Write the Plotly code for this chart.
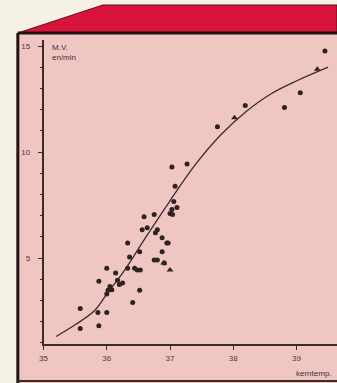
import plotly.graph_objects as go

W, H = 337, 383

# ---- data ----
dot_x = [36.0, 35.875, 35.58, 35.58, 35.86, 36.0, 35.875, 36.02, 36.05, 36.0, 36.17, 36.41,
         36.36, 36.48, 36.59, 36.75, 36.56, 36.64, 36.33, 36.52, 36.33, 36.53, 36.14, 36.52,
         36.8, 36.875, 36.95, 36.77, 37.03, 37.06, 37.03, 37.27, 37.08, 37.11, 37.0, 36.8,
         36.875, 37.75, 38.19, 38.81, 39.06, 39.45, 36.25, 36.44, 36.97, 37.04, 36.2, 36.08,
         36.75, 36.91]
dot_y = [4.52, 3.9, 2.62, 1.67, 2.43, 2.43, 1.81, 3.48, 3.65, 3.3, 3.95, 2.9,
         5.05, 4.43, 6.95, 7.05, 6.33, 6.43, 5.71, 5.29, 4.52, 4.43, 4.29, 3.48,
         4.9, 5.29, 5.71, 6.19, 7.29, 7.67, 9.29, 9.43, 8.38, 7.38, 7.1, 6.33,
         5.95, 11.19, 12.19, 12.1, 12.8, 14.76, 3.82, 4.52, 5.71, 7.05, 3.75, 3.5,
         4.9, 4.76]
tri_x = [38.02, 39.33, 37.0, 36.9]
tri_y = [11.62, 13.9, 4.43, 4.76]

curve_x = [35.2, 35.5, 35.8, 36.0, 36.3, 36.6, 37.0, 37.4, 37.8, 38.2, 38.6, 39.0, 39.5]
curve_y = [1.3, 1.85, 2.5, 3.3, 4.5, 5.9, 7.7, 9.4, 10.8, 11.9, 12.75, 13.35, 14.0]

x_ticks = [35, 36, 37, 38, 39]
y_ticks = [5, 10, 15]

# ---- helpers for decoration positions (pixels -> paper) ----
def px(x):
    return x / W

def py(y):
    return 1 - y / H

ink = "#2e2222"
pink = "#efc6c2"
red = "#d8143c"
cream = "#f6f1e6"

fig = go.Figure()

fig.add_trace(go.Scatter(x=curve_x, y=curve_y, mode="lines",
                         line=dict(color="#3a2c2c", width=1.3, shape="spline", smoothing=1.0),
                         hoverinfo="skip", showlegend=False))
fig.add_trace(go.Scatter(x=dot_x, y=dot_y, mode="markers",
                         marker=dict(color=ink, size=5, symbol="circle"),
                         showlegend=False))
fig.add_trace(go.Scatter(x=tri_x, y=tri_y, mode="markers",
                         marker=dict(color=ink, size=6, symbol="triangle-up"),
                         showlegend=False))

shapes = [
    dict(type="rect", xref="paper", yref="paper", x0=px(14), x1=px(337), y0=py(383), y1=py(33),
         fillcolor=pink, line=dict(width=0), layer="below"),
    dict(type="path", xref="paper", yref="paper",
         path=f"M {px(14)},{py(33)} L {px(100)},{py(5)} L {px(337)},{py(5)} L {px(337)},{py(33)} Z",
         fillcolor=red, line=dict(color="#5a1020", width=1), layer="below"),
    dict(type="line", xref="paper", yref="paper", x0=px(14), x1=px(337), y0=py(33), y1=py(33),
         line=dict(color="#1e1414", width=3)),
    dict(type="line", xref="paper", yref="paper", x0=px(14), x1=px(14), y0=py(33), y1=py(383),
         line=dict(color="#1e1414", width=3)),
    dict(type="line", xref="paper", yref="paper", x0=px(14), x1=px(337), y0=py(381), y1=py(381),
         line=dict(color="#3a2a2a", width=2)),
]

font_fam = "Liberation Sans Narrow, Liberation Sans, Arial"
annotations = [
    dict(text="M.V.", xref="paper", yref="paper", x=px(47), y=py(41), xanchor="left", yanchor="top",
         showarrow=False, font=dict(size=8, color="#3e3434", family=font_fam)),
    dict(text="en/min", xref="paper", yref="paper", x=px(47), y=py(51), xanchor="left", yanchor="top",
         showarrow=False, font=dict(size=8, color="#3e3434", family=font_fam)),
    dict(text="kerntemp.", xref="paper", yref="paper", x=px(293), y=py(367), xanchor="left",
         yanchor="top", showarrow=False, font=dict(size=8, color="#3e3434", family=font_fam)),
]

x0v, ppu_x = 35.0, 64.0
y0pix, ppu_y = 364.0, 21.2

fig.update_layout(
    width=W, height=H,
    margin=dict(l=0, r=0, t=0, b=0),
    paper_bgcolor=cream, plot_bgcolor="rgba(0,0,0,0)",
    shapes=shapes, annotations=annotations,
    xaxis=dict(domain=[px(40), 1.0], range=[x0v, x0v + (337 - 40) / ppu_x],
               showgrid=False, zeroline=False, showline=True, linecolor="#3a2c2c", linewidth=1.5,
               tickvals=x_ticks, ticktext=[str(t) for t in x_ticks],
               ticks="outside", ticklen=4, tickcolor="#3a2c2c", ticklabelstandoff=2,
               tickfont=dict(size=8, color="#4a3c3c", family=font_fam)),
    yaxis=dict(domain=[py(344), py(40)],
               range=[(y0pix - 344) / ppu_y, (y0pix - 40) / ppu_y],
               showgrid=False, zeroline=False, showline=True, linecolor="#3a2c2c", linewidth=1.5,
               tickvals=y_ticks, ticktext=[str(t) for t in y_ticks],
               ticks="outside", ticklen=4, tickcolor="#3a2c2c", ticklabelstandoff=6,
               minor=dict(dtick=1, ticks="outside", ticklen=2, tickcolor="#3a2c2c"),
               tickfont=dict(size=8, color="#4a3c3c", family=font_fam)),
)

fig.write_html("out.html", config={"displayModeBar": False},
               post_script="document.body.style.margin='0px';document.body.style.overflow='hidden';")
